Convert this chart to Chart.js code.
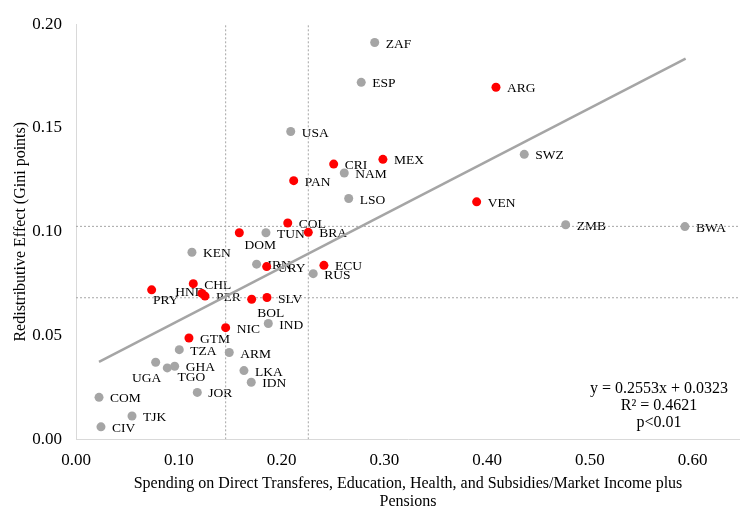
<!DOCTYPE html>
<html>
<head>
<meta charset="utf-8">
<script src="https://cdn.jsdelivr.net/npm/chart.js@4"></script>
<style>
html, body { margin: 0; padding: 0; background: #fff; overflow: hidden; }
</style>
</head>
<body>
<canvas id="chart1" width="740" height="508"></canvas>
<script>
// Latin American countries (red)
let redCodes = ['ARG','MEX','CRI','PAN','VEN','COL','BRA','DOM','URY','ECU','CHL','PRY','HND','PER','SLV','BOL','NIC','GTM'];
let redX = [0.4086, 0.2986, 0.2507, 0.2118, 0.3898, 0.2060, 0.2260, 0.1589, 0.1855, 0.2412, 0.1141, 0.0736, 0.1225, 0.1255, 0.1858, 0.1709, 0.1456, 0.1099];
let redY = [0.1696, 0.1349, 0.1326, 0.1246, 0.1144, 0.1042, 0.0997, 0.0995, 0.0832, 0.0838, 0.0750, 0.0720, 0.0703, 0.0690, 0.0683, 0.0675, 0.0538, 0.0488];

// other countries (gray)
let grayCodes = ['ZAF','ESP','USA','SWZ','NAM','LSO','ZMB','BWA','TUN','KEN','IRN','RUS','IND','TZA','ARM','UGA','GHA','TGO','LKA','IDN','JOR','COM','TJK','CIV'];
let grayX = [0.2906, 0.2775, 0.2089, 0.4361, 0.2610, 0.2653, 0.4764, 0.5924, 0.1848, 0.1128, 0.1757, 0.2308, 0.1871, 0.1005, 0.1491, 0.0775, 0.0960, 0.0888, 0.1634, 0.1705, 0.1180, 0.0224, 0.0545, 0.0243];
let grayY = [0.1912, 0.1720, 0.1483, 0.1373, 0.1283, 0.1160, 0.1034, 0.1025, 0.0995, 0.0901, 0.0844, 0.0798, 0.0558, 0.0432, 0.0418, 0.0371, 0.0352, 0.0344, 0.0331, 0.0275, 0.0226, 0.0202, 0.0112, 0.0060];

// trend line ends
let trendX = [0.0224, 0.5931];
let trendY = [0.0373, 0.1834];

// dotted reference lines
let refX = [0.1456, 0.2260];
let refY = [0.1026, 0.0682];

let equationLines = ['y = 0.2553x + 0.0323', 'R\u00b2 = 0.4621', 'p<0.01'];

const xMin = 0, xMax = 0.646, yMin = 0, yMax = 0.20;

// labels that are not simply to the right of their point (center offsets)
const labelNudge = {
  DOM: [21, 13], PRY: [14, 11], BOL: [19, 14], UGA: [-9, 16], TGO: [24, 10], HND: [-12, -1]
};

function pts(xs, ys) {
  let out = [];
  for (let i = 0; i < xs.length; i++) out.push({x: xs[i], y: ys[i]});
  return out;
}

let datasets = [];
datasets.push({ type: 'scatter', data: pts(redX, redY), codes: redCodes, backgroundColor: '#ff0000', borderWidth: 0, pointRadius: 4.5, order: 0 });
datasets.push({ type: 'scatter', data: pts(grayX, grayY), codes: grayCodes, backgroundColor: '#a5a5a5', borderWidth: 0, pointRadius: 4.5, order: 1 });
datasets.push({ type: 'line', data: pts(trendX, trendY), borderColor: '#a5a5a5', borderWidth: 2.5, pointRadius: 0, fill: false, order: 2 });
refX.forEach(v => {
  datasets.push({ type: 'line', data: [{x: v, y: yMin}, {x: v, y: yMax}], borderColor: '#a6a6a6', borderWidth: 1, borderDash: [2, 2], pointRadius: 0, fill: false, order: 3 });
});
refY.forEach(v => {
  datasets.push({ type: 'line', data: [{x: xMin, y: v}, {x: xMax, y: v}], borderColor: '#a6a6a6', borderWidth: 1, borderDash: [2, 2], pointRadius: 0, fill: false, order: 3 });
});

const serif = '"Liberation Serif", "Times New Roman", serif';

const codeLabels = {
  id: 'codeLabels',
  beforeDatasetsDraw(chart) {
    const ctx = chart.ctx;
    ctx.save();
    ctx.font = '13.5px ' + serif;
    ctx.fillStyle = '#000';
    ctx.textBaseline = 'middle';
    [0, 1].forEach(di => {
      const meta = chart.getDatasetMeta(di);
      const codes = chart.data.datasets[di].codes;
      meta.data.forEach((pt, i) => {
        const c = codes[i];
        const n = labelNudge[c];
        if (n) {
          ctx.textAlign = 'center';
          ctx.fillText(c, pt.x + n[0], pt.y + n[1]);
        } else {
          ctx.textAlign = 'left';
          ctx.fillText(c, pt.x + 11, pt.y + 1.5);
        }
      });
    });
    ctx.restore();
  },
  afterDatasetsDraw(chart) {
    const ctx = chart.ctx;
    ctx.save();
    ctx.font = '16px ' + serif;
    ctx.fillStyle = '#000';
    ctx.textAlign = 'center';
    ctx.textBaseline = 'middle';
    equationLines.forEach((t, i) => ctx.fillText(t, 659, 389 + i * 17));
    ctx.restore();
  }
};

const config = {
  type: 'scatter',
  data: { datasets: datasets },
  options: {
    responsive: false,
    animation: false,
    layout: { autoPadding: false, padding: { top: 22.7, right: 0, bottom: 0, left: 0 } },
    plugins: { legend: { display: false }, tooltip: { enabled: false } },
    scales: {
      x: {
        type: 'linear', min: xMin, max: xMax,
        grid: { display: false, drawTicks: false },
        border: { display: true, color: '#d9d9d9', width: 1 },
        ticks: {
          stepSize: 0.1, includeBounds: false, padding: 11, color: '#000',
          font: { family: serif, size: 17 },
          callback: v => v.toFixed(2)
        },
        title: {
          display: true, color: '#000',
          text: ['Spending on Direct Transferes, Education, Health, and Subsidies/Market Income plus', 'Pensions'],
          font: { family: serif, size: 16, lineHeight: 1.15 },
          padding: { top: 0, bottom: -3 }
        },
        afterFit: s => { s.height = 68.7; }
      },
      y: {
        type: 'linear', min: yMin, max: yMax,
        grid: { display: false, drawTicks: false },
        border: { display: true, color: '#d9d9d9', width: 1 },
        ticks: {
          stepSize: 0.05, padding: 14, color: '#000',
          font: { family: serif, size: 17 },
          callback: v => v.toFixed(2)
        },
        title: {
          display: true, color: '#000',
          text: 'Redistributive Effect (Gini points)',
          font: { family: serif, size: 16 },
          padding: { top: 11, bottom: 0 }
        },
        afterFit: s => { s.width = 76; }
      }
    }
  },
  plugins: [codeLabels]
};

const myChart = new Chart(document.getElementById('chart1'), config);
</script>
</body>
</html>
